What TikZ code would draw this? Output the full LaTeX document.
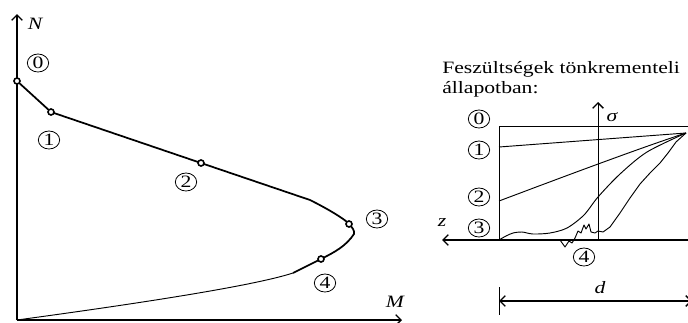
\documentclass[tikz,border=0pt]{standalone}
\usepackage{fontspec}
\setmainfont{Liberation Serif}[FakeStretch=1.25]
\usetikzlibrary{arrows.meta,shapes.geometric}
\tikzset{
  axis/.style={line width=0.8pt},
  tip/.style={-{Straight Barb[length=4pt,width=8pt,line width=1pt]}},
  lab/.style={inner sep=0pt,font=\fontsize{13pt}{15pt}\selectfont\itshape},
  cnum/.style={ellipse,draw,line width=0.6pt,minimum width=16pt,minimum height=13.5pt,inner sep=0pt,font=\fontsize{13pt}{15pt}\selectfont},
  dotm/.style={circle,draw,line width=1.2pt,fill=white,minimum size=4.5pt,inner sep=0pt},
  thickc/.style={line width=1.3pt,line join=round},
  thinc/.style={line width=0.7pt},
}
\begin{document}
\begin{tikzpicture}[x=0.75pt,y=-0.75pt]
\useasboundingbox (0,0) rectangle (688,322);
\clip (0,0) rectangle (688,322);
% ---------- left panel ----------
\coordinate (O) at (17,320);
\coordinate (Ntip) at (17,14);
\coordinate (Mtip) at (402,320);
\draw[axis,tip] (O) -- (Ntip);
\draw[axis,tip] (O) -- (Mtip);
\node[lab] (Nl) at (35,24) {N};
\node[lab] (Ml) at (395,302) {M};
\coordinate (c0) at (17,81);
\coordinate (c1) at (51,112);
\coordinate (c2) at (201,163);
\coordinate (ca) at (310,200);
\coordinate (c3) at (349,224);
\coordinate (ct) at (354,234);
\coordinate (c4) at (321,259);
\coordinate (cb) at (293,273);
\draw[thickc] (c0) -- (c1) -- (c2) -- (ca) .. controls (330,210) and (346,220) .. (c3)
  .. controls (352,227) and (355,231) .. (ct) .. controls (346,246) and (335,252) .. (c4) -- (cb);
\draw[thinc] (cb) .. controls (250,287) and (120,306) .. (O);
\foreach \p in {0,1,2,3,4} {\node[dotm] (m\p) at (c\p) {};}
\node[cnum] (l0) at (38,63) {0};
\node[cnum] (l1) at (49,140) {1};
\node[cnum] (l2) at (186,182) {2};
\node[cnum] (l3) at (377,219) {3};
\node[cnum] (l4) at (325,283) {4};
% ---------- right panel ----------
\node[anchor=base west,inner sep=0pt,align=left,font=\fontsize{13pt}{15pt}\selectfont] (title) at (442,93)
  {Feszültségek tönkrementeli\\állapotban:};
\coordinate (B0) at (499,240);
\coordinate (BL) at (499,126);
\coordinate (BR) at (690,126);
\coordinate (Zs) at (690,240);
\coordinate (Zt) at (442,240);
\coordinate (S0) at (598,240);
\coordinate (St) at (598,102);
\coordinate (C) at (686,133);
\draw[line width=0.6pt] (B0) -- (BL) -- (BR);
\draw[axis,line width=1.1pt,tip] (Zs) -- (Zt);
\draw[line width=0.6pt,tip] (S0) -- (St);
\node[lab] (zl) at (442,223) {z};
\node[lab] (sl) at (612,117) {σ};
\coordinate (r1) at (499,147);
\coordinate (r2) at (499,201);
\draw[thinc] (r1) -- (C);
\draw[thinc] (r2) .. controls (560,178) and (640,148) .. (C);
\draw[thinc,line join=round] plot[smooth,tension=0.5] coordinates {(499,240) (506,236) (513,233) (522,232) (533,234) (550,233) (567,228) (584,215) (598,197) (620,174) (647,152) (686,133)};
\draw[thinc,line join=round] (B0) -- (560,240) -- (565,247) -- (567,244) -- (569,241) -- (572,243) -- (575,238) -- (578,231) -- (581,233) -- (584,225) -- (586,229) -- (589,224) -- (591,232) -- (595,233) -- (598,231) -- (603,232) -- (610,227) -- (620,213) -- (630,198) -- (640,184) -- (650,173) -- (660,163) -- (668,153) -- (676,142) -- (C);
\draw[line width=1.2pt] (B0) -- (540,240);
\node[cnum] (k0) at (479,119) {0};
\node[cnum] (k1) at (479,150) {1};
\node[cnum] (k2) at (479,197) {2};
\node[cnum] (k3) at (479,228) {3};
\node[cnum] (k4) at (584,257) {4};
% dimension d
\coordinate (D0) at (499,301);
\coordinate (D1) at (692,301);
\coordinate (T0) at (499,287);
\coordinate (T1) at (499,315);
\draw[line width=0.6pt] (T0) -- (T1);
\draw[axis,line width=1.1pt,{Straight Barb[length=4pt,width=8pt,line width=1pt]}-{Straight Barb[length=4pt,width=8pt,line width=1pt]}] (D0) -- (D1);
\node[lab] (dl) at (600,288) {d};
\end{tikzpicture}
\end{document}
